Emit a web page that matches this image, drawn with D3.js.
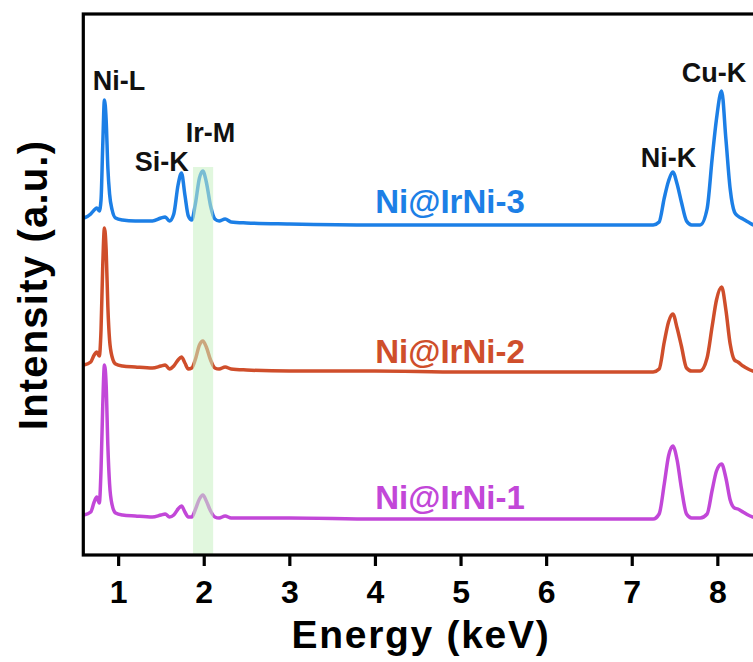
<!DOCTYPE html>
<html>
<head>
<meta charset="utf-8">
<script src="https://cdn.jsdelivr.net/npm/d3@7"></script>
<style>
  body { margin: 0; background: #fff; }
  text { font-family: "Liberation Sans", Arial, sans-serif; font-weight: bold; }
</style>
</head>
<body>
<svg width="753" height="662"></svg>
<script>
// energy grid (keV)
const energy = [0.60, 0.68, 0.72, 0.75, 0.78, 0.80, 0.82, 0.84, 0.86, 0.88, 0.90, 0.93, 0.97,
  1.05, 1.20, 1.40, 1.50, 1.55, 1.60, 1.65, 1.70, 1.74, 1.78, 1.82, 1.86, 1.90, 1.95, 1.99,
  2.03, 2.08, 2.13, 2.18, 2.25, 2.32, 2.50, 3.0, 4.0, 5.0, 6.0, 7.0, 7.25, 7.32, 7.38, 7.43,
  7.48, 7.53, 7.58, 7.64, 7.70, 7.80, 7.88, 7.94, 7.99, 8.05, 8.10, 8.15, 8.20, 8.24, 8.30,
  8.36, 8.45, 8.60];

const sampleNames = ['Ni@IrNi-1', 'Ni@IrNi-2', 'Ni@IrNi-3'];
const offsets = [3.7, 18.5, 33.1];
const colors = ['#c247d8', '#cf4e2b', '#1c7fe6'];

const ni1 = [0.3, 0.6, 1.6, 2.1, 1.5, 4.8, 11.2, 15.3, 13.3, 7.2, 3.4, 1.3, 0.5,
  0.3, 0.2, 0.1, 0.3, 0.4, 0.1, 0.3, 0.9, 1.2, 0.6, 0.1, 0.1, 0.8, 1.9, 2.3,
  1.7, 0.7, 0.1, 0.0, 0.2, 0.0, 0.0, 0.0, -0.1, -0.1, -0.1, -0.1, -0.1, 0.4, 3.4, 6.2,
  7.2, 5.8, 3.0, 0.4, 0.0, 0.0, 0.4, 2.8, 4.7, 5.4, 4.0, 1.8, 1.0, 0.9, 0.6,
  0.3, 0.0, -0.2];

const ni2 = [0.5, 0.8, 1.5, 1.8, 1.4, 4.0, 10.4, 14.2, 12.0, 6.3, 3.0, 1.3, 0.6,
  0.4, 0.3, 0.2, 0.4, 0.5, 0.1, 0.4, 1.0, 1.3, 0.7, 0.1, 0.2, 1.0, 2.5, 2.9,
  2.3, 1.0, 0.2, 0.1, 0.3, 0.1, 0.0, -0.1, -0.1, -0.2, -0.2, -0.2, -0.2, 0.1, 2.8, 4.8,
  5.6, 4.2, 2.4, 0.2, -0.1, -0.1, 1.2, 4.4, 7.0, 8.3, 6.0, 2.6, 1.0, 0.8, 0.4,
  0.1, -0.2, -0.4];

const ni3 = [0.6, 1.0, 1.4, 1.6, 1.3, 2.4, 7.8, 12.4, 10.4, 5.6, 3.0, 1.4, 0.6,
  0.4, 0.3, 0.3, 0.6, 0.7, 0.3, 1.0, 3.9, 5.1, 2.9, 0.8, 0.4, 1.9, 4.6, 5.3,
  4.2, 1.8, 0.5, 0.3, 0.5, 0.2, 0.1, 0.0, -0.1, -0.1, -0.1, -0.1, -0.1, 0.2, 2.6, 4.3,
  5.2, 4.0, 2.2, 0.3, -0.1, -0.1, 1.5, 6.6, 10.5, 13.3, 8.5, 3.5, 1.2, 0.8, 0.5,
  0.2, -0.2, -0.4];

const spectra = [ni1, ni2, ni3];

const peakNames = ['Ni-L', 'Si-K', 'Ir-M', 'Ni-K', 'Cu-K'];
const xTicks = [1, 2, 3, 4, 5, 6, 7, 8];
const irBand = [1.875, 2.11];

const svg = d3.select('svg');
const plotLeft = 83.3, plotTop = 14, plotBottom = 555;

const x = d3.scaleLinear()
  .domain([0.593, 8.6])
  .range([plotLeft, plotLeft + (8.6 - 0.593) * 85.6]);

const y = d3.scaleLinear()
  .domain([0, 54.1])
  .range([plotBottom, plotTop]);

const line = d3.line()
  .x(d => x(d[0]))
  .y(d => y(d[1]))
  .curve(d3.curveMonotoneX);

const plot = svg.append('g');

spectra.forEach((s, i) => {
  plot.append('path')
    .datum(energy.map((e, j) => [e, s[j] + offsets[i]]))
    .attr('fill', 'none')
    .attr('stroke', colors[i])
    .attr('stroke-width', 3.5)
    .attr('stroke-linejoin', 'round')
    .attr('d', line);
});

// Ir-M highlight band sits over the traces
plot.append('rect')
  .attr('x', x(irBand[0]))
  .attr('width', x(irBand[1]) - x(irBand[0]))
  .attr('y', 167)
  .attr('height', plotBottom - 167)
  .attr('fill', '#c8f0c2')
  .attr('opacity', 0.55);

// sample labels
const labelRise = [9, 7, 11];
sampleNames.forEach((n, i) => {
  svg.append('text')
    .attr('x', 450)
    .attr('y', y(offsets[i]) - labelRise[i])
    .attr('text-anchor', 'middle')
    .attr('font-size', 33)
    .attr('fill', colors[i])
    .text(n);
});

// peak labels
const peakPos = [[1.01, 90], [1.51, 171], [2.08, 142], [7.43, 167], [7.96, 82]];
peakNames.forEach((n, i) => {
  svg.append('text')
    .attr('x', x(peakPos[i][0]))
    .attr('y', peakPos[i][1])
    .attr('text-anchor', 'middle')
    .attr('font-size', 27)
    .attr('fill', '#111')
    .text(n);
});

// frame
svg.append('rect')
  .attr('x', plotLeft)
  .attr('y', plotTop)
  .attr('width', x.range()[1] - plotLeft)
  .attr('height', plotBottom - plotTop)
  .attr('fill', 'none')
  .attr('stroke', '#000')
  .attr('stroke-width', 3.2);

const xAxis = svg.append('g')
  .attr('transform', `translate(0,${plotBottom})`)
  .call(d3.axisBottom(x).tickValues(xTicks).tickSize(11).tickSizeOuter(0).tickFormat(d3.format('d')));
xAxis.select('.domain').remove();
xAxis.selectAll('line').attr('stroke', '#000').attr('stroke-width', 3.2);
xAxis.selectAll('text')
  .attr('y', 48)
  .attr('dy', 0)
  .attr('font-size', 32)
  .attr('font-family', '"Liberation Sans", Arial, sans-serif')
  .attr('font-weight', 'bold')
  .attr('fill', '#000');

svg.append('text')
  .attr('x', 421)
  .attr('y', 648)
  .attr('text-anchor', 'middle')
  .attr('font-size', 39)
  .attr('letter-spacing', 1.7)
  .text('Energy (keV)');

svg.append('text')
  .attr('transform', 'translate(47,285) rotate(-90)')
  .attr('text-anchor', 'middle')
  .attr('font-size', 40)
  .attr('letter-spacing', 1.2)
  .text('Intensity (a.u.)');
</script>
</body>
</html>
